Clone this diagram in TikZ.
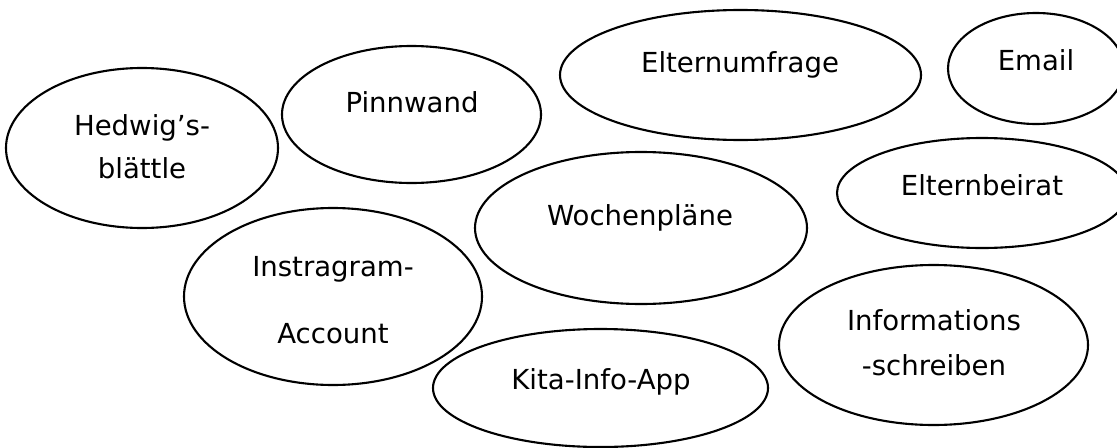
\documentclass[tikz,border=0pt]{standalone}
\usepackage{fontspec}
\setmainfont{DejaVu Sans}
\usetikzlibrary{shapes.geometric}

\begin{document}
\begin{tikzpicture}[x=0.025cm, y=-0.025cm, line width=1.5pt,
	bubble/.style 2 args={draw, ellipse, inner sep=0pt, outer sep=0pt, minimum width=2*#1*0.025cm, minimum height=2*#2*0.025cm},
	lbl/.style={anchor=base, inner sep=0pt, font=\fontsize{19.6}{23}\selectfont}]
	\useasboundingbox (0,0) rectangle (1117,447);
	% ellipses
	\node[bubble={136}{80}] (hedwig) at (142,148) {};
	\node[bubble={129.5}{68.5}] (pinnwand) at (411.5,114.5) {};
	\node[bubble={180.5}{65}] (umfrage) at (740.5,75) {};
	\node[bubble={88}{55.5}] (email) at (1036,68.5) {};
	\node[bubble={145}{55}] (beirat) at (982,193) {};
	\node[bubble={166}{76}] (wochen) at (641,228) {};
	\node[bubble={149}{88.5}] (insta) at (333,296.5) {};
	\node[bubble={167.5}{59}] (kita) at (600.5,388) {};
	\node[bubble={154.5}{80}] (infos) at (933.5,345) {};
	% texts
	\node[lbl] (hedwigA) at (142,135) {Hedwig’s-};
	\node[lbl] (hedwigB) at (142,178) {blättle};
	\node[lbl] (pinnwandA) at (412,112) {Pinnwand};
	\node[lbl] (umfrageA) at (740,72) {Elternumfrage};
	\node[lbl] (emailA) at (1036,70) {Email};
	\node[lbl] (beiratA) at (982,195) {Elternbeirat};
	\node[lbl] (wochenA) at (640,225) {Wochenpläne};
	\node[lbl] (instaA) at (333,276) {Instragram-};
	\node[lbl] (instaB) at (333,343) {Account};
	\node[lbl] (kitaA) at (601,389) {Kita-Info-App};
	\node[lbl] (infosA) at (934,330) {Informations};
	\node[lbl] (infosB) at (934,375) {-schreiben};
\end{tikzpicture}
\end{document}
